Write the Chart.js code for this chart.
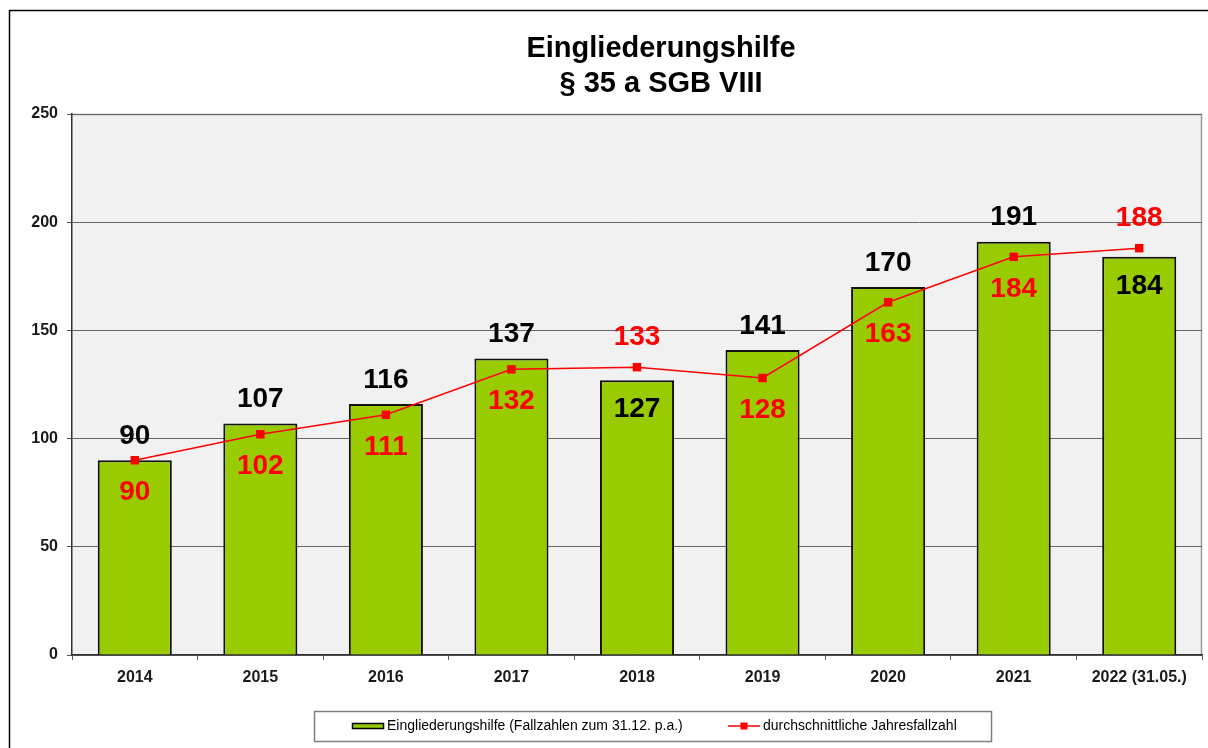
<!DOCTYPE html>
<html lang="de">
<head>
<meta charset="utf-8">
<title>Eingliederungshilfe § 35 a SGB VIII</title>
<script src="https://cdn.jsdelivr.net/npm/chart.js@4/dist/chart.umd.min.js"></script>
<style>
    html, body { margin: 0; padding: 0; background: #ffffff; }
    #chart { display: block; }
</style>
</head>
<body>
<canvas id="chart" width="1208" height="748"></canvas>
<script>
// Chart data
const years = ['2014', '2015', '2016', '2017', '2018', '2019', '2020', '2021', '2022 (31.05.)'];
const fallzahlen = [90, 107, 116, 137, 127, 141, 170, 191, 184];
const jahresfallzahl = [90, 102, 111, 132, 133, 128, 163, 184, 188];
const yTicks = [0, 50, 100, 150, 200, 250];
const titleLines = ['Eingliederungshilfe', '§ 35 a SGB VIII'];
const seriesLabels = ['Eingliederungshilfe (Fallzahlen zum 31.12. p.a.)', 'durchschnittliche Jahresfallzahl'];

const FONT = 'Arial, "Liberation Sans", sans-serif';
const BAR_GREEN = '#99cc00';
const LINE_RED = '#ff0000';

// Plot background, frame, title and legend box
const decorations = {
    id: 'decorations',
    beforeDraw(chart) {
        const ctx = chart.ctx;
        const a = chart.chartArea;
        ctx.save();
        ctx.fillStyle = '#ffffff';
        ctx.fillRect(0, 0, chart.width, chart.height);
        // outer frame
        ctx.strokeStyle = '#000000';
        ctx.lineWidth = 1.5;
        ctx.strokeRect(9.5, 10.5, 1400, 900);
        // plot area
        ctx.fillStyle = '#f1f1f1';
        ctx.fillRect(a.left, a.top, a.right - a.left, a.bottom - a.top);
        ctx.strokeStyle = '#9a9a9a';
        ctx.lineWidth = 1.5;
        ctx.beginPath();
        ctx.moveTo(a.left, a.top + 0.5);
        ctx.lineTo(a.right - 0.5, a.top + 0.5);
        ctx.lineTo(a.right - 0.5, a.bottom);
        ctx.stroke();
        ctx.restore();
    },
    afterDraw(chart) {
        const ctx = chart.ctx;
        ctx.save();
        // title
        ctx.fillStyle = '#000000';
        ctx.font = 'bold 29px ' + FONT;
        ctx.textAlign = 'center';
        ctx.textBaseline = 'alphabetic';
        titleLines.forEach((line, i) => ctx.fillText(line, 661, 57 + i * 35));

        // legend
        ctx.strokeStyle = '#808080';
        ctx.lineWidth = 1.5;
        ctx.strokeRect(314.5, 711.5, 677, 30);
        ctx.font = '14px ' + FONT;
        ctx.textAlign = 'left';
        ctx.textBaseline = 'middle';
        ctx.fillStyle = BAR_GREEN;
        ctx.fillRect(352, 723, 32, 6);
        ctx.strokeStyle = '#000000';
        ctx.lineWidth = 1.5;
        ctx.strokeRect(352.5, 723.5, 31, 5);
        ctx.fillStyle = '#000000';
        ctx.fillText(chart.data.datasets[0].label, 387, 726.5);
        ctx.strokeStyle = LINE_RED;
        ctx.lineWidth = 1.5;
        ctx.beginPath();
        ctx.moveTo(728, 726);
        ctx.lineTo(760, 726);
        ctx.stroke();
        ctx.fillStyle = LINE_RED;
        ctx.fillRect(740.5, 722.5, 7, 7);
        ctx.fillStyle = '#000000';
        ctx.fillText(chart.data.datasets[1].label, 763, 726.5);
        ctx.restore();
    }
};

// Value labels above / inside bars and next to line points
const valueLabels = {
    id: 'valueLabels',
    afterDatasetsDraw(chart) {
        const ctx = chart.ctx;
        const barMeta = chart.getDatasetMeta(0);
        const lineMeta = chart.getDatasetMeta(1);
        ctx.save();
        ctx.font = 'bold 28px ' + FONT;
        ctx.textAlign = 'center';
        ctx.textBaseline = 'middle';
        barMeta.data.forEach((bar, i) => {
            const pt = lineMeta.data[i];
            const barVal = fallzahlen[i];
            const avg = jahresfallzahl[i];
            if (barVal >= avg) {
                ctx.fillStyle = '#000000';
                ctx.fillText(String(barVal), bar.x, bar.y - 24);
                ctx.fillStyle = LINE_RED;
                ctx.fillText(String(avg), pt.x, pt.y + 32);
            } else {
                ctx.fillStyle = '#000000';
                ctx.fillText(String(barVal), bar.x, bar.y + 29);
                ctx.fillStyle = LINE_RED;
                ctx.fillText(String(avg), pt.x, pt.y - 30);
            }
        });
        ctx.restore();
    }
};

const ctx = document.getElementById('chart').getContext('2d');
const chart = new Chart(ctx, {
    type: 'bar',
    data: {
        labels: years,
        datasets: [{
            type: 'bar',
            label: seriesLabels[0],
            data: fallzahlen,
            backgroundColor: BAR_GREEN,
            borderColor: '#111111',
            borderWidth: 2,
            barPercentage: 0.59,
            categoryPercentage: 1,
            order: 2
        }, {
            type: 'line',
            label: seriesLabels[1],
            data: jahresfallzahl,
            borderColor: LINE_RED,
            borderWidth: 1.5,
            backgroundColor: LINE_RED,
            pointStyle: 'rect',
            pointRadius: 6,
            pointBorderWidth: 0,
            tension: 0,
            fill: false,
            order: 1
        }]
    },
    options: {
        responsive: false,
        animation: false,
        devicePixelRatio: 1,
        layout: {
            padding: { left: 9, right: 6, top: 114, bottom: 0 }
        },
        plugins: {
            legend: { display: false },
            title: { display: false },
            tooltip: { enabled: false }
        },
        scales: {
            x: {
                offset: true,
                grid: {
                    offset: true,
                    drawOnChartArea: false,
                    drawTicks: true,
                    tickLength: 5,
                    tickColor: '#555555'
                },
                border: { color: '#333333', width: 1.5 },
                ticks: {
                    color: '#1a1a1a',
                    font: { family: FONT, size: 16, weight: 'bold' },
                    padding: 8,
                    maxRotation: 0,
                    autoSkip: false
                },
                afterFit(scale) { scale.height = 93; }
            },
            y: {
                min: 0,
                max: 250,
                afterBuildTicks(scale) { scale.ticks = yTicks.map(v => ({ value: v })); },
                grid: {
                    color: '#666666',
                    lineWidth: 1,
                    tickLength: 5,
                    tickColor: '#555555'
                },
                border: { color: '#333333', width: 1.5 },
                ticks: {
                    color: '#1a1a1a',
                    font: { family: FONT, size: 16, weight: 'bold' },
                    padding: 9
                },
                afterFit(scale) { scale.width = 63; }
            }
        }
    },
    plugins: [decorations, valueLabels]
});
</script>
</body>
</html>
